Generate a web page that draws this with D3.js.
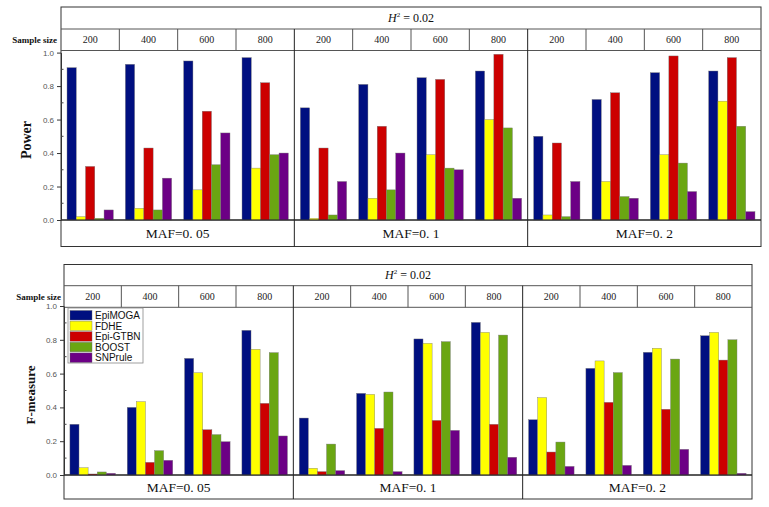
<!DOCTYPE html>
<html>
<head>
<meta charset="utf-8">
<script src="https://cdn.jsdelivr.net/npm/d3@7"></script>
<style>
  body { margin: 0; background: #fff; }
  svg { display: block; }
</style>
</head>
<body>
<div id="chart"></div>
<script>
// data
var methods = ["EpiMOGA", "FDHE", "Epi-GTBN", "BOOST", "SNPrule"];
var sampleSizes = ["200", "400", "600", "800"];
var mafLabels = ["MAF=0. 05", "MAF=0. 1", "MAF=0. 2"];
var yTicks = [0, 0.2, 0.4, 0.6, 0.8, 1.0];
var colors = ["#000f80", "#ffff00", "#cc0000", "#6aa612", "#6c0085"];

// power, one row per sample size, one value per method
var powerMaf005 = [[0.91, 0.02, 0.32, 0.01, 0.06], [0.93, 0.07, 0.43, 0.06, 0.25], [0.95, 0.18, 0.65, 0.33, 0.52], [0.97, 0.31, 0.82, 0.39, 0.40]];
var powerMaf01  = [[0.67, 0.01, 0.43, 0.03, 0.23], [0.81, 0.13, 0.56, 0.18, 0.40], [0.85, 0.39, 0.84, 0.31, 0.30], [0.89, 0.60, 0.99, 0.55, 0.13]];
var powerMaf02  = [[0.50, 0.03, 0.46, 0.02, 0.23], [0.72, 0.23, 0.76, 0.14, 0.13], [0.88, 0.39, 0.98, 0.34, 0.17], [0.89, 0.71, 0.97, 0.56, 0.05]];

// F-measure
var fMaf005 = [[0.30, 0.043, 0.006, 0.018, 0.01], [0.40, 0.434, 0.075, 0.144, 0.087], [0.69, 0.605, 0.268, 0.239, 0.197], [0.856, 0.744, 0.424, 0.724, 0.231]];
var fMaf01  = [[0.337, 0.04, 0.02, 0.183, 0.026], [0.483, 0.477, 0.276, 0.491, 0.02], [0.805, 0.779, 0.323, 0.789, 0.264], [0.903, 0.844, 0.30, 0.828, 0.105]];
var fMaf02  = [[0.327, 0.458, 0.136, 0.195, 0.051], [0.631, 0.675, 0.43, 0.606, 0.057], [0.726, 0.75, 0.389, 0.686, 0.152], [0.824, 0.844, 0.68, 0.80, 0.01]];

var W = 769, H = 507;
var svg = d3.select("#chart").append("svg").attr("width", W).attr("height", H);

function drawChart(cfg) {
  var g = svg.append("g");
  var x = d3.scaleBand().domain(d3.range(3)).range([cfg.left, cfg.right]);
  var y = d3.scaleLinear().domain([0, 1]).range([cfg.y0, cfg.y1]);
  var line = "#555";

  // header rows
  g.append("rect").attr("x", cfg.left).attr("y", cfg.top)
    .attr("width", cfg.right - cfg.left).attr("height", cfg.bottom - cfg.top)
    .attr("fill", "none").attr("stroke", "#333").attr("stroke-width", 1);
  [cfg.h2Bottom, cfg.ssBottom, cfg.y0].forEach(function (yy) {
    g.append("line").attr("x1", cfg.left).attr("x2", cfg.right).attr("y1", yy).attr("y2", yy)
      .attr("stroke", yy == cfg.y0 ? "#222" : line).attr("stroke-width", 1);
  });

  var h2 = g.append("text").attr("x", (cfg.left + cfg.right) / 2).attr("y", (cfg.top + cfg.h2Bottom) / 2 + 4)
    .attr("text-anchor", "middle").attr("font-family", "Liberation Serif").attr("font-size", 12).attr("fill", "#111");
  h2.append("tspan").attr("font-style", "italic").text("H");
  h2.append("tspan").attr("font-size", 7).attr("dy", -5).text("2");
  h2.append("tspan").attr("dy", 5).text(" = 0.02");

  g.append("text").attr("x", cfg.ssLabelX).attr("y", (cfg.h2Bottom + cfg.ssBottom) / 2 + 3)
    .attr("text-anchor", "end").attr("font-family", "Liberation Serif").attr("font-weight", "bold")
    .attr("font-size", 9).attr("fill", "#111").text("Sample size");

  // panels
  x.domain().forEach(function (p) {
    var x0 = x(p), bw = x.bandwidth();
    var gx = d3.scaleBand().domain(sampleSizes).range([x0, x0 + bw]);
    var mx = d3.scaleBand().domain(d3.range(methods.length)).range([0, gx.bandwidth()]).paddingOuter(0.65);

    if (p > 0) {
      g.append("line").attr("x1", x0).attr("x2", x0).attr("y1", cfg.h2Bottom).attr("y2", cfg.bottom)
        .attr("stroke", "#222").attr("stroke-width", 1);
    }
    sampleSizes.forEach(function (s, i) {
      if (i > 0) {
        g.append("line").attr("x1", gx(s)).attr("x2", gx(s)).attr("y1", cfg.h2Bottom).attr("y2", cfg.ssBottom)
          .attr("stroke", line);
      }
      g.append("text").attr("x", gx(s) + gx.bandwidth() / 2).attr("y", (cfg.h2Bottom + cfg.ssBottom) / 2 + 3.5)
        .attr("text-anchor", "middle").attr("font-family", "Liberation Serif")
        .attr("font-size", 10).attr("fill", "#222").text(s);
    });

    var groups = g.selectAll(null).data(cfg.values[p]).enter().append("g")
      .attr("transform", function (d, i) { return "translate(" + gx(sampleSizes[i]) + ",0)"; });
    groups.selectAll("rect").data(function (d) { return d; }).enter().append("rect")
      .attr("x", function (d, i) { return mx(i); })
      .attr("y", function (d) { return y(d); })
      .attr("width", mx.bandwidth())
      .attr("height", function (d) { return y(0) - y(d); })
      .attr("fill", function (d, i) { return colors[i]; })
      .attr("stroke", "#777").attr("stroke-width", 0.4);

    g.append("text").attr("x", x0 + bw / 2).attr("y", (cfg.y0 + cfg.bottom) / 2 + 5)
      .attr("text-anchor", "middle").attr("font-family", "Liberation Serif")
      .attr("font-size", 13.5).attr("fill", "#111").text(mafLabels[p]);
  });

  // redraw baseline over bars
  g.append("line").attr("x1", cfg.left).attr("x2", cfg.right).attr("y1", cfg.y0).attr("y2", cfg.y0)
    .attr("stroke", "#222").attr("stroke-width", 1);

  // y axis
  var ax = g.append("g").attr("transform", "translate(" + cfg.left + ",0)")
    .call(d3.axisLeft(y).tickValues(yTicks).tickFormat(d3.format(".1f")).tickSize(4).tickSizeOuter(0));
  ax.select(".domain").attr("stroke", "#333");
  ax.selectAll(".tick line").attr("stroke", "#333");
  ax.selectAll("text").attr("font-family", "Liberation Sans").attr("font-size", 8).attr("fill", "#555");
  g.append("g").selectAll("line").data(d3.range(0.1, 1, 0.2)).enter().append("line")
    .attr("x1", cfg.left).attr("x2", cfg.left + 2.5)
    .attr("y1", function (d) { return y(d); }).attr("y2", function (d) { return y(d); })
    .attr("stroke", "#444");

  g.append("text").attr("transform", "translate(" + cfg.titleX + "," + cfg.titleY + ") rotate(-90)")
    .attr("text-anchor", "middle").attr("font-family", "Liberation Serif").attr("font-weight", "bold")
    .attr("font-size", cfg.titleSize).attr("fill", "#111").text(cfg.title);
  return g;
}

drawChart({
  left: 61, right: 761, top: 7, h2Bottom: 29, ssBottom: 50.5, y0: 220, y1: 52.6, bottom: 246.5,
  ssLabelX: 57, values: [powerMaf005, powerMaf01, powerMaf02],
  title: "Power", titleX: 31, titleY: 140, titleSize: 14
});

var g2 = drawChart({
  left: 64, right: 752, top: 264.5, h2Bottom: 285.7, ssBottom: 307.3, y0: 475, y1: 306, bottom: 499,
  ssLabelX: 61, values: [fMaf005, fMaf01, fMaf02],
  title: "F-measure", titleX: 35, titleY: 395, titleSize: 13
});

// legend in the bottom chart
var lg = g2.append("g").attr("transform", "translate(68,308)");
lg.append("rect").attr("width", 75).attr("height", 55).attr("fill", "#fff").attr("stroke", "#888").attr("stroke-width", 0.8);
var item = lg.selectAll("g.item").data(methods).enter().append("g")
  .attr("transform", function (d, i) { return "translate(2," + (2.5 + i * 10.6) + ")"; });
item.append("rect").attr("width", 22).attr("height", 9.5)
  .attr("fill", function (d, i) { return colors[i]; }).attr("stroke", "#666").attr("stroke-width", 0.4);
item.append("text").attr("x", 25).attr("y", 8.5).attr("font-family", "Liberation Sans")
  .attr("font-size", 10).attr("fill", "#111").text(function (d) { return d; });
</script>
</body>
</html>
